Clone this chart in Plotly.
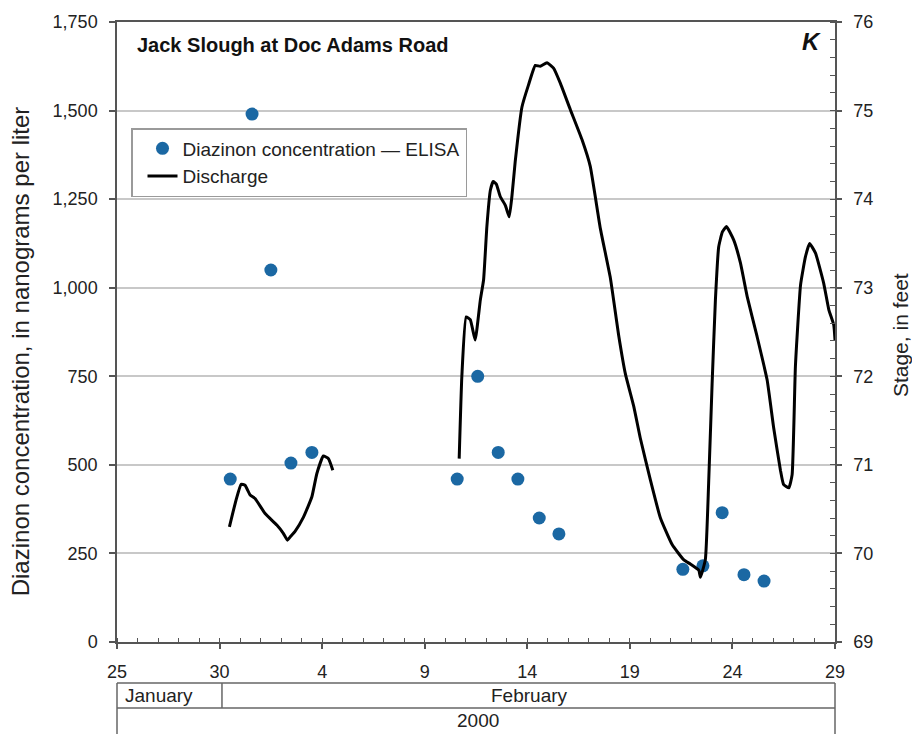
import pandas as pd
import plotly.graph_objects as go

# Diazinon concentration samples (ELISA), nanograms per liter
sample_times = [
    "2000-01-30 12:30", "2000-01-31 14:00", "2000-02-01 12:00", "2000-02-02 11:30",
    "2000-02-03 12:00", "2000-02-10 14:00", "2000-02-11 14:00", "2000-02-12 14:00",
    "2000-02-13 13:00", "2000-02-14 14:00", "2000-02-15 13:00", "2000-02-21 14:00",
    "2000-02-22 13:30", "2000-02-23 12:00", "2000-02-24 13:30", "2000-02-25 13:00",
]
diazinon_ngl = [460, 1490, 1050, 505, 535, 460, 750, 535, 460, 350, 305, 205, 215, 365, 190, 172]

# Stage record (feet), two continuous runs; time in days after 2000-01-25 00:00
stage_run1_days = [5.48, 5.80, 6.05, 6.24, 6.49, 6.73, 7.22, 7.79, 8.10, 8.31, 8.49, 8.68,
                   9.09, 9.50, 9.74, 10.06, 10.31, 10.52]
stage_run1_ft = [70.30, 70.60, 70.78, 70.77, 70.66, 70.62, 70.45, 70.32, 70.23, 70.15, 70.20,
                 70.25, 70.41, 70.64, 70.90, 71.10, 71.07, 70.94]

stage_run2_days = [16.68, 16.81, 17.02, 17.22, 17.46, 17.71, 17.87, 18.03, 18.20, 18.34, 18.49,
                   18.68, 18.93, 19.12, 19.25, 19.41, 19.74, 20.06, 20.39, 20.63, 20.96, 21.28,
                   21.61, 22.10, 22.67, 23.07, 23.56, 24.05, 24.45, 24.78, 25.19, 25.51, 26.00,
                   26.49, 27.06, 27.62, 27.95, 28.36, 28.44, 28.68, 28.84, 29.01, 29.17, 29.33,
                   29.51, 29.71, 30.06, 30.39, 30.72, 31.20, 31.69, 32.01, 32.34, 32.49, 32.75,
                   32.91, 33.07, 33.32, 33.56, 33.76, 34.05, 34.45, 34.70, 34.94, 35.00]
stage_run2_ft = [71.07, 72.00, 72.67, 72.64, 72.41, 72.86, 73.09, 73.69, 74.10, 74.20, 74.17,
                 74.03, 73.93, 73.80, 74.03, 74.42, 75.04, 75.29, 75.51, 75.50, 75.54, 75.48,
                 75.31, 75.01, 74.67, 74.37, 73.67, 73.11, 72.47, 72.03, 71.66, 71.30, 70.83,
                 70.40, 70.10, 69.93, 69.88, 69.81, 69.73, 69.93, 70.79, 71.92, 72.86, 73.46,
                 73.63, 73.69, 73.54, 73.28, 72.90, 72.45, 71.96, 71.42, 70.94, 70.78, 70.74,
                 70.89, 72.11, 73.03, 73.35, 73.50, 73.39, 73.05, 72.75, 72.58, 72.41]

START = pd.Timestamp("2000-01-25")
END = pd.Timestamp("2000-02-29")


def to_time(days):
    return [START + pd.Timedelta(days=d) for d in days]


# a gap between the two runs breaks the line
stage_t = to_time(stage_run1_days) + [None] + to_time(stage_run2_days)
stage_v = stage_run1_ft + [None] + stage_run2_ft

FONT = "Liberation Sans, Arial, sans-serif"
AX = "#555555"
GRID = "#c8c8c8"
TXT = "#222222"
BLUE = "#1b68a3"

fig = go.Figure()

fig.add_trace(go.Scatter(
    x=stage_t, y=stage_v, yaxis="y2", mode="lines", name="Discharge",
    line=dict(color="black", width=3, shape="spline", smoothing=0.4),
    connectgaps=False, legendrank=2,
))
fig.add_trace(go.Scatter(
    x=pd.to_datetime(sample_times), y=diazinon_ngl, mode="markers",
    name="Diazinon concentration \u2014 ELISA",
    marker=dict(color=BLUE, size=13, line=dict(width=0)), legendrank=1,
))

fig.update_layout(
    width=912, height=734,
    margin=dict(l=117, r=77, t=22, b=92),
    paper_bgcolor="white", plot_bgcolor="white",
    font=dict(family=FONT, size=18, color=TXT),
    xaxis=dict(
        type="date", range=[START, END],
        tick0="2000-01-25", dtick=5 * 86400000, tickformat="%-d",
        showgrid=False, zeroline=False,
        showline=True, linecolor=AX, linewidth=1.5, mirror=True,
        ticks="outside", ticklen=5, tickcolor=AX, tickwidth=1.5,
        ticklabelstandoff=8,
        minor=dict(dtick=86400000, tick0="2000-01-25", ticks="inside",
                   ticklen=4, tickcolor=AX, tickwidth=1, showgrid=False),
        tickfont=dict(size=18, family=FONT, color=TXT),
    ),
    yaxis=dict(
        range=[0, 1750], dtick=250, tickformat=",",
        showgrid=True, gridcolor=GRID, gridwidth=1.5, zeroline=False,
        showline=True, linecolor=AX, linewidth=1.5,
        ticks="outside", ticklen=6, tickcolor=AX, tickwidth=1.5,
        ticklabelstandoff=8,
        tickfont=dict(size=18, family=FONT, color=TXT),
    ),
    yaxis2=dict(
        range=[69, 76], dtick=1, overlaying="y", side="right",
        showgrid=False, zeroline=False,
        showline=True, linecolor=AX, linewidth=1.5,
        ticks="outside", ticklen=5, tickcolor=AX, tickwidth=1.5,
        ticklabelstandoff=8,
        minor=dict(dtick=0.2, ticks="inside", ticklen=5, tickcolor=AX, tickwidth=1),
        tickfont=dict(size=18, family=FONT, color=TXT),
    ),
    legend=dict(
        x=0.0195, y=0.829, xanchor="left", yanchor="top",
        bgcolor="white", bordercolor="#9a9a9a", borderwidth=1.5,
        font=dict(size=19, family=FONT, color=TXT),
        indentation=10, tracegroupgap=0,
    ),
    showlegend=True,
)

# Panel heading and panel letter
fig.add_annotation(x=0.0251, y=0.963, xref="paper", yref="paper",
                   text="<b>Jack Slough at Doc Adams Road</b>", showarrow=False,
                   xanchor="left", yanchor="middle",
                   font=dict(size=20, family=FONT, color="#111111"))
fig.add_annotation(x=0.9666, y=0.969, xref="paper", yref="paper",
                   text="<b><i>K</i></b>", showarrow=False,
                   xanchor="center", yanchor="middle",
                   font=dict(size=24, family=FONT, color="#111111"))

# Axis titles
fig.add_annotation(x=-0.135, y=0.469, xref="paper", yref="paper",
                   text="Diazinon concentration, in nanograms per liter",
                   textangle=-90, showarrow=False, xanchor="center", yanchor="middle",
                   font=dict(size=24, family=FONT, color=TXT))
fig.add_annotation(x=1.0905, y=0.495, xref="paper", yref="paper",
                   text="Stage, in feet",
                   textangle=-90, showarrow=False, xanchor="center", yanchor="middle",
                   font=dict(size=21, family=FONT, color=TXT))

# Month / year table under the time axis
TBL = dict(color="#666666", width=1.5)
y_top, y_mid, y_bot = -0.0661, -0.1065, -0.16
x_div = 0.1462
for x0, y0, x1, y1 in [
    (0, y_top, 1, y_top), (0, y_mid, 1, y_mid),
    (0, y_top, 0, y_bot), (1, y_top, 1, y_bot),
    (x_div, y_top, x_div, y_mid),
]:
    fig.add_shape(type="line", xref="paper", yref="paper",
                  x0=x0, y0=y0, x1=x1, y1=y1, line=TBL)

fig.add_annotation(x=0.0084, y=-0.087, xref="paper", yref="paper", text="January",
                   showarrow=False, xanchor="left", yanchor="middle",
                   font=dict(size=19, family=FONT, color=TXT))
fig.add_annotation(x=0.575, y=-0.087, xref="paper", yref="paper", text="February",
                   showarrow=False, xanchor="center", yanchor="middle",
                   font=dict(size=19, family=FONT, color=TXT))
fig.add_annotation(x=0.503, y=-0.127, xref="paper", yref="paper", text="2000",
                   showarrow=False, xanchor="center", yanchor="middle",
                   font=dict(size=19, family=FONT, color=TXT))

fig.write_html("out.html")
